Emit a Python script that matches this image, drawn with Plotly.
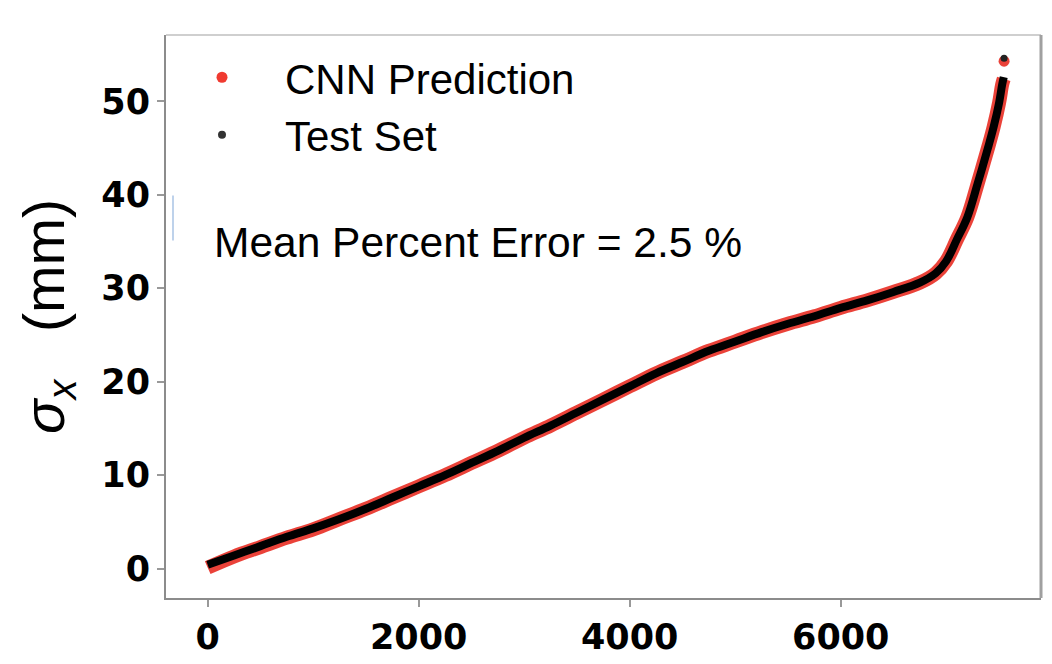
import plotly.graph_objects as go

# Sorted test-set samples (index) and their sigma_x values
sample_idx = [0, 250, 500, 750, 1000, 1250, 1500, 1750, 2000, 2250, 2500, 2750,
              3000, 3250, 3500, 3750, 4000, 4250, 4500, 4750, 5000, 5250, 5500,
              5750, 6000, 6250, 6500, 6750, 6900, 7000, 7100, 7200, 7300, 7400,
              7450, 7500, 7530, 7545]
test_sigma = [0.4, 1.4, 2.4, 3.4, 4.3, 5.3, 6.4, 7.6, 8.8, 10.0, 11.3, 12.6,
              14.0, 15.3, 16.7, 18.1, 19.5, 20.9, 22.1, 23.3, 24.3, 25.3, 26.2,
              27.0, 27.9, 28.7, 29.6, 30.6, 31.6, 32.9, 35.2, 37.6, 41.3, 45.2,
              47.3, 49.8, 51.8, 52.6]
cnn_sigma = [0.1, 1.3, 2.3, 3.3, 4.2, 5.3, 6.4, 7.6, 8.8, 10.0, 11.3, 12.6,
             14.0, 15.3, 16.7, 18.1, 19.5, 20.9, 22.1, 23.3, 24.3, 25.3, 26.2,
             27.0, 27.9, 28.7, 29.6, 30.6, 31.6, 32.9, 35.2, 37.6, 41.3, 45.2,
             47.3, 49.8, 51.8, 52.4]

# isolated top sample
top_idx = [7548]
top_test = [54.6]
top_cnn = [54.3]

red = "rgba(232,45,35,0.9)"

fig = go.Figure()

# CNN prediction (red halo) under the test set (black core)
fig.add_trace(go.Scatter(x=sample_idx, y=cnn_sigma, mode="lines",
                         line=dict(color=red, width=14, shape="spline"),
                         showlegend=False, hoverinfo="skip"))
fig.add_trace(go.Scatter(x=top_idx, y=top_cnn, mode="markers",
                         marker=dict(color=red, size=11),
                         showlegend=False, hoverinfo="skip"))
fig.add_trace(go.Scatter(x=sample_idx, y=test_sigma, mode="lines",
                         line=dict(color="black", width=8, shape="spline"),
                         showlegend=False, hoverinfo="skip"))
fig.add_trace(go.Scatter(x=top_idx, y=top_test, mode="markers",
                         marker=dict(color="#222", size=7),
                         showlegend=False, hoverinfo="skip"))

# legend entries shown as dots
fig.add_trace(go.Scatter(x=[None], y=[None], mode="markers", name="CNN Prediction",
                         marker=dict(color="#f03a30", size=11)))
fig.add_trace(go.Scatter(x=[None], y=[None], mode="markers", name="Test Set",
                         marker=dict(color="#333", size=8)))

fig.add_annotation(text="Mean Percent Error = 2.5 %",
                   xref="paper", yref="paper", x=0.052, y=0.632,
                   xanchor="left", yanchor="middle", showarrow=False,
                   font=dict(family="Liberation Sans", size=42.5, color="black"))

# frame: lighter top edge, grey right edge, small blue mark near the left axis
fig.add_shape(type="line", xref="paper", yref="paper", x0=0, x1=1, y0=1, y1=1,
              line=dict(color="#cfcfcf", width=2))
fig.add_shape(type="line", xref="paper", yref="paper", x0=1, x1=1, y0=0, y1=1,
              line=dict(color="#a0a0a0", width=3))
fig.add_shape(type="line", xref="paper", yref="paper", x0=0.008, x1=0.008,
              y0=0.635, y1=0.715, line=dict(color="#a9c3e4", width=1.5))

fig.update_xaxes(range=[-395, 7898], tickvals=[0, 2000, 4000, 6000],
                 showgrid=False, zeroline=False,
                 showline=True, linecolor="#8c8c8c", linewidth=2,
                 ticks="outside", ticklen=7, tickcolor="#999", tickwidth=2,
                 tickfont=dict(family="DejaVu Sans", size=35, weight="bold", color="black"))
fig.update_yaxes(range=[-3.15, 57.1], tickvals=[0, 10, 20, 30, 40, 50],
                 showgrid=False, zeroline=False,
                 showline=True, linecolor="#8c8c8c", linewidth=2,
                 ticks="outside", ticklen=7, tickcolor="#999", tickwidth=2,
                 tickfont=dict(family="DejaVu Sans", size=35, weight="bold", color="black"),
                 title=dict(text="<i>σ</i><sub><i>x</i></sub>   (mm)", standoff=18,
                            font=dict(family="Liberation Sans", size=57, color="black")))

fig.update_layout(
    width=1052, height=664,
    margin=dict(l=158, r=19, t=27, b=74),
    plot_bgcolor="white", paper_bgcolor="white",
    legend=dict(x=-0.008, y=0.985, xanchor="left", yanchor="top",
                bgcolor="rgba(0,0,0,0)", itemwidth=116,
                font=dict(family="Liberation Sans", size=42, color="black")),
)

fig.write_html("out.html")
